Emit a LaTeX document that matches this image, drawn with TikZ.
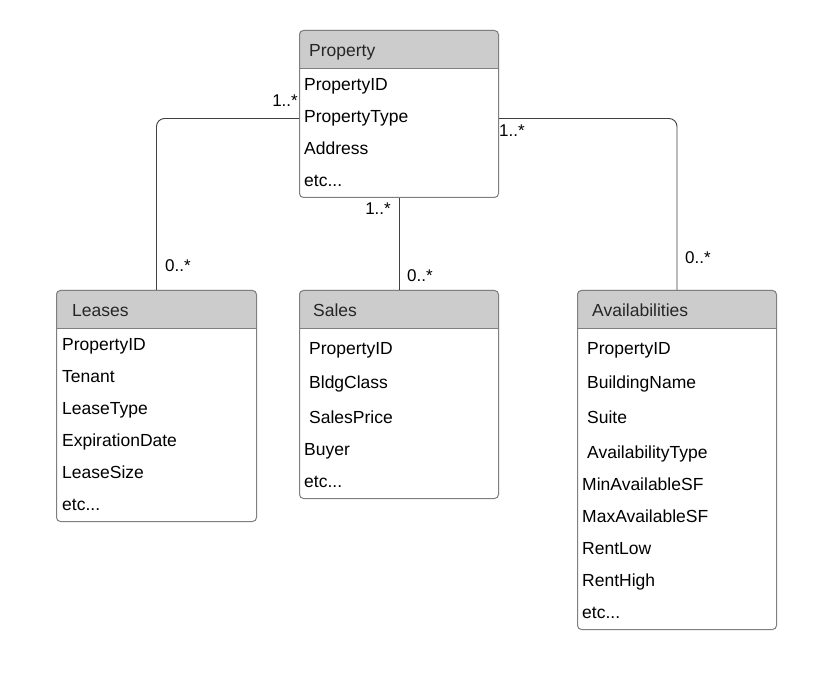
\documentclass[tikz,border=0pt]{standalone}
\usepackage{fontspec}
\setmainfont{Liberation Sans}
\definecolor{headfill}{HTML}{CCCCCC}
\definecolor{boxline}{HTML}{7F7F7F}
\definecolor{connline}{HTML}{404040}
\tikzset{
  fieldtxt/.style={anchor=base west, inner sep=0pt, font=\fontsize{17.5}{20}\selectfont, text=black},
  headtxt/.style={anchor=base west, inner sep=0pt, font=\fontsize{17.5}{20}\selectfont, text=black!85},
  multtxt/.style={inner sep=0pt, font=\fontsize{17}{19}\selectfont, text=black},
  boxframe/.style={draw=boxline, line width=1pt, rounded corners=4pt, inner sep=0pt, anchor=north west},
  conn/.style={draw=connline, line width=0.9pt, rounded corners=8pt},
}
\newcommand{\entitybox}[5]{% name, x, y, w, h
  \fill[headfill, rounded corners=4pt] (#2,#3) rectangle ++(#4,39);
  \fill[headfill] (#2,#3+20) rectangle ++(#4,19);
  \draw[boxline, line width=1pt] (#2,#3+39) -- ++(#4,0);
  \node[boxframe, minimum width=#4 pt, minimum height=#5 pt] (#1) at (#2,#3) {};
}
\begin{document}
\begin{tikzpicture}[x=1pt, y=-1pt]
\useasboundingbox[fill=white] (0,0) rectangle (830,676);

% Property
\entitybox{prop}{299}{30}{199}{167}
\node[headtxt] (propH) at (309,57) {Property};
\node[fieldtxt] (p1) at (304,91) {PropertyID};
\node[fieldtxt] (p2) at (304,123) {PropertyType};
\node[fieldtxt] (p3) at (304,155) {Address};
\node[fieldtxt] (p4) at (304,187) {etc...};

% Leases
\entitybox{leases}{56}{290}{200}{231}
\node[headtxt] (leasesH) at (72,317) {Leases};
\node[fieldtxt] (l1) at (62,350) {PropertyID};
\node[fieldtxt] (l2) at (62,382) {Tenant};
\node[fieldtxt] (l3) at (62,414) {LeaseType};
\node[fieldtxt] (l4) at (62,446) {ExpirationDate};
\node[fieldtxt] (l5) at (62,478) {LeaseSize};
\node[fieldtxt] (l6) at (62,510) {etc...};

% Sales
\entitybox{sales}{299}{290}{199}{208}
\node[headtxt] (salesH) at (313,317) {Sales};
\node[fieldtxt] (s1) at (309,354) {PropertyID};
\node[fieldtxt] (s2) at (309,388) {BldgClass};
\node[fieldtxt] (s3) at (309,423) {SalesPrice};
\node[fieldtxt] (s4) at (304,455) {Buyer};
\node[fieldtxt] (s5) at (304,487) {etc...};

% Availabilities
\entitybox{avail}{577}{290}{199}{339}
\node[headtxt] (availH) at (592,317) {Availabilities};
\node[fieldtxt] (a1) at (587,354) {PropertyID};
\node[fieldtxt] (a2) at (587,388) {BuildingName};
\node[fieldtxt] (a3) at (587,423) {Suite};
\node[fieldtxt] (a4) at (587,458) {AvailabilityType};
\node[fieldtxt] (a5) at (582,490) {MinAvailableSF};
\node[fieldtxt] (a6) at (582,522) {MaxAvailableSF};
\node[fieldtxt] (a7) at (582,554) {RentLow};
\node[fieldtxt] (a8) at (582,586) {RentHigh};
\node[fieldtxt] (a9) at (582,618) {etc...};

% Connectors
\draw[conn] ([yshift=-4.5pt]prop.west) -| (leases.north);
\draw[conn] (prop.south) -- (sales.north);
\draw[conn] ([yshift=-4.5pt]prop.east) -| (avail.north);

% Multiplicities
\node[multtxt, anchor=base east] (m1) at (298,107) {1..*};
\node[multtxt, anchor=base west] (m2) at (165,272) {0..*};
\node[multtxt, anchor=base east] (m3) at (391,215) {1..*};
\node[multtxt, anchor=base west] (m4) at (407,282) {0..*};
\node[multtxt, anchor=base west] (m5) at (499,137) {1..*};
\node[multtxt, anchor=base west] (m6) at (685,264) {0..*};
\end{tikzpicture}
\end{document}
